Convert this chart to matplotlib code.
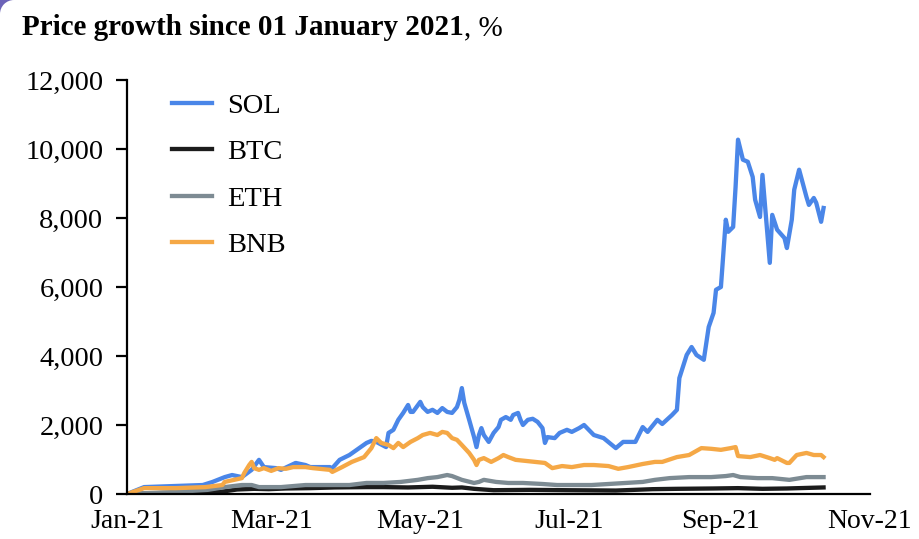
import numpy as np
import pandas as pd
import matplotlib
matplotlib.use('Agg')
from matplotlib import pyplot as plt
import matplotlib.dates as mdates
from matplotlib.ticker import FuncFormatter
from matplotlib.patches import Rectangle, Circle

# Days since 01 Jan 2021 and price growth in %
sol_day = [0, 7, 31, 35, 40, 43, 47, 51, 54, 56, 61, 63, 69, 73, 75, 83, 84, 87, 91, 94,
           98, 100, 102, 106, 107, 109, 111, 113, 115, 116, 117, 120, 121, 123, 125, 127,
           129, 131, 133, 135, 136, 137, 138, 140, 142, 143, 144, 145, 146, 148, 150, 152,
           153, 155, 157, 158, 160, 161, 162, 164, 166, 168, 170, 171, 172, 175, 177, 180,
           182, 185, 187, 191, 195, 200, 203, 208, 211, 213, 217, 219, 223, 225, 226, 229,
           231, 233, 236, 238, 240, 241, 243, 245, 246, 248, 249, 250, 252, 254, 256, 257,
           259, 260, 263, 264, 266, 269, 270, 272, 273, 275, 278, 279, 281, 282, 284, 285]
sol_val = [0, 200, 260, 350, 490, 550, 490, 700, 990, 780, 750, 700, 900, 840, 780, 780, 750,
           990, 1130, 1280, 1480, 1540, 1510, 1360, 1770, 1860, 2150, 2350, 2580, 2380, 2380,
           2670, 2520, 2380, 2440, 2350, 2490, 2380, 2350, 2520, 2730, 3070, 2640, 2150, 1650,
           1360, 1710, 1910, 1710, 1510, 1770, 1940, 2150, 2230, 2150, 2290, 2350, 2150, 2000,
           2150, 2180, 2090, 1910, 1480, 1650, 1620, 1770, 1860, 1800, 1910, 2000, 1710, 1620,
           1330, 1510, 1510, 1940, 1800, 2150, 2030, 2290, 2440, 3360, 4030, 4260, 4030, 3890,
           4840, 5250, 5920, 6000, 7950, 7600, 7740, 8900, 10270, 9690, 9630, 9190, 8530, 8030,
           9250, 6700, 8090, 7660, 7420, 7130, 7950, 8820, 9400, 8610, 8380, 8580, 8440, 7890,
           8290]

btc_day = [0, 15, 30, 38, 45, 52, 58, 65, 75, 85, 98, 105, 115, 125, 133, 137, 142, 150,
           165, 180, 200, 215, 225, 240, 250, 260, 270, 285]
btc_val = [0, 30, 20, 60, 130, 150, 140, 160, 170, 190, 200, 200, 190, 210, 180, 190, 150,
           110, 120, 110, 100, 140, 150, 160, 170, 150, 160, 190]

eth_day = [0, 20, 33, 40, 47, 51, 54, 58, 63, 68, 73, 83, 91, 98, 105, 112, 119, 123, 127,
           131, 133, 137, 142, 144, 146, 151, 156, 162, 170, 176, 183, 190, 197, 204, 211,
           216, 222, 230, 239, 245, 248, 251, 258, 264, 271, 278, 285]
eth_val = [0, 60, 120, 200, 260, 260, 200, 200, 200, 230, 260, 260, 260, 320, 320, 350, 410,
           460, 490, 550, 520, 410, 320, 350, 410, 350, 320, 320, 290, 260, 260, 260, 290,
           320, 350, 410, 460, 490, 490, 520, 550, 490, 460, 460, 410, 490, 490]

bnb_day = [0, 7, 20, 32, 39, 40, 47, 48, 50, 51, 52, 54, 56, 59, 62, 65, 68, 70, 73, 76,
           83, 84, 88, 92, 97, 100, 102, 104, 107, 109, 111, 113, 116, 119, 121, 124, 127,
           129, 131, 133, 135, 137, 140, 142, 143, 144, 146, 149, 152, 154, 156, 159, 163,
           167, 171, 174, 178, 182, 187, 191, 197, 201, 205, 211, 216, 219, 225, 230, 235,
           239, 243, 247, 249, 250, 255, 259, 263, 265, 266, 270, 271, 274, 278, 281, 284, 285]
bnb_val = [0, 170, 170, 200, 260, 350, 460, 610, 840, 930, 750, 700, 750, 670, 750, 730, 780,
           780, 780, 750, 700, 640, 780, 930, 1070, 1330, 1620, 1480, 1420, 1330, 1480, 1360,
           1510, 1620, 1710, 1770, 1710, 1800, 1770, 1620, 1570, 1420, 1190, 990, 840, 990,
           1040, 930, 1040, 1130, 1070, 990, 960, 930, 900, 750, 810, 780, 840, 840, 810, 730,
           780, 870, 930, 930, 1070, 1130, 1330, 1310, 1280, 1330, 1360, 1100, 1070, 1130,
           1040, 990, 1040, 900, 900, 1130, 1190, 1130, 1130, 1070]

labels = ['SOL', 'BTC', 'ETH', 'BNB']
colors = ['#4a86e8', '#1c1c1c', '#7d8b93', '#f5a846']

start = pd.Timestamp('2021-01-01')


def to_dates(days):
    return start + pd.to_timedelta(days, unit='D')


plt.rcParams['font.family'] = ['Liberation Serif', 'DejaVu Serif']
plt.rcParams['font.size'] = 20.5

fig = plt.figure(figsize=(9.2, 5.39), dpi=100)
ax = fig.add_axes([127 / 920, 45 / 539, 743 / 920, 414 / 539])

series = [(sol_day, sol_val), (btc_day, btc_val), (eth_day, eth_val), (bnb_day, bnb_val)]
for (d, v), lab, col in zip(series, labels, colors):
    ax.plot(to_dates(d), v, color=col, lw=3.1, label=lab, solid_joinstyle='round')

ax.set_xlim(pd.Timestamp('2021-01-01'), pd.Timestamp('2021-11-01'))
ax.set_ylim(0, 12000)
ax.set_yticks(np.arange(0, 12001, 2000))
ax.yaxis.set_major_formatter(FuncFormatter(lambda v, p: f'{v:,.0f}'))
ax.xaxis.set_major_locator(mdates.MonthLocator(bymonth=[1, 3, 5, 7, 9, 11]))
ax.xaxis.set_major_formatter(mdates.DateFormatter('%b-%y'))

for s in ['top', 'right']:
    ax.spines[s].set_visible(False)
for s in ['left', 'bottom']:
    ax.spines[s].set_linewidth(1.6)
ax.tick_params(axis='y', length=8, width=1.6, pad=9, labelsize=20.5)
ax.tick_params(axis='x', length=0, pad=11, labelsize=20)

ax.legend(loc='upper left', bbox_to_anchor=(0.0606, 0.969), frameon=False,
          handlelength=1.4, handletextpad=0.53, labelspacing=0.72,
          borderpad=0, borderaxespad=0, fontsize=20.5)

t1 = fig.text(22 / 920, 1 - 35 / 539, 'Price growth since 01 January 2021',
              fontsize=21, fontweight='bold', va='baseline', ha='left')
ax.annotate(', %', xy=(1, 0), xycoords=t1, xytext=(0, 0), textcoords='offset points',
            fontsize=21, va='bottom', ha='left', annotation_clip=False)

# purple corner of the screenshot frame
fig.patches.append(Rectangle((0, 1 - 14 / 539), 14 / 920, 14 / 539, transform=fig.transFigure,
                             facecolor='#6c63b8', edgecolor='none', zorder=0))
fig.patches.append(Circle((14, 539 - 14), 14, transform=None,
                          facecolor='white', edgecolor='none', zorder=1))

fig.savefig('out.png', dpi=100)
